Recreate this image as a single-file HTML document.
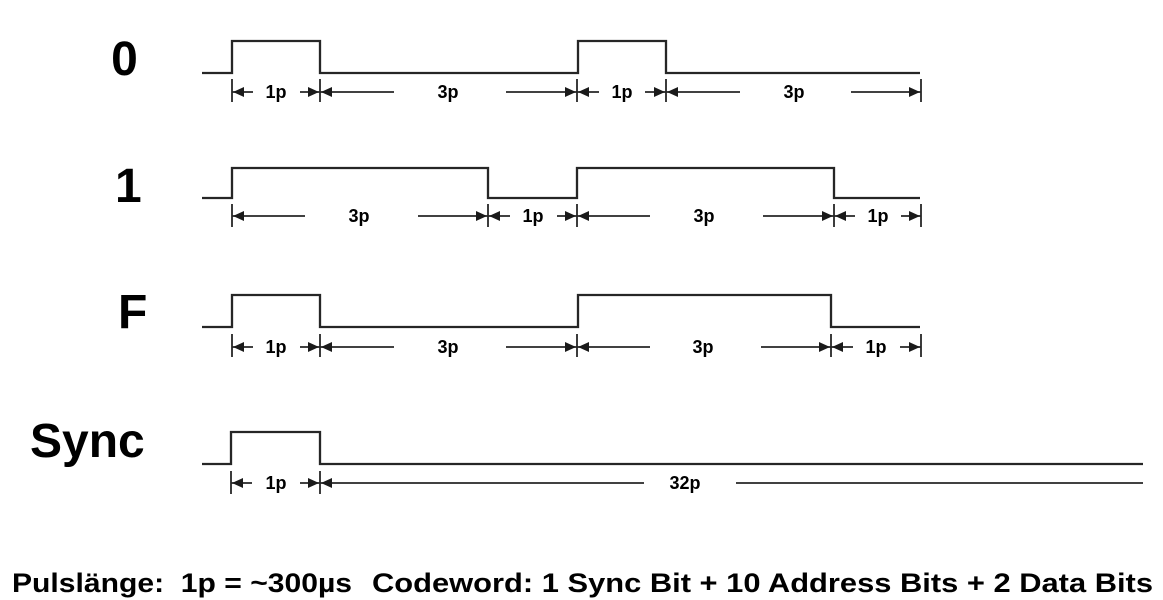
<!DOCTYPE html>
<html><head><meta charset="utf-8"><style>
html,body{margin:0;padding:0;background:#fff;}
svg{display:block;}
text{font-family:"Liberation Sans",Arial,sans-serif;font-weight:bold;fill:#000;}
.sig{fill:none;stroke:#262626;stroke-width:2.3;}
.dim{stroke:#262626;stroke-width:1.8;fill:none;}
.ah{fill:#1a1a1a;}
.sm{font-size:18px;}
.big{font-size:48px;}
</style></head><body>
<svg width="1163" height="600" viewBox="0 0 1163 600" xmlns="http://www.w3.org/2000/svg">
<!-- Labels -->
<text class="big" x="124.5" y="75" text-anchor="middle">0</text>
<text class="big" x="115" y="202">1</text>
<text class="big" x="118" y="328">F</text>
<text class="big" x="30" y="457">Sync</text>

<!-- Row 0 -->
<polyline class="sig" points="202,73 232,73 232,41 320,41 320,73 578,73 578,41 666,41 666,73 920,73"/>
<g class="dim">
<line x1="232" y1="79" x2="232" y2="102"/><line x1="320" y1="79" x2="320" y2="102"/>
<line x1="577" y1="79" x2="577" y2="102"/><line x1="666" y1="79" x2="666" y2="102"/>
<line x1="921" y1="79" x2="921" y2="102"/>
<line x1="232" y1="92" x2="253" y2="92"/><line x1="300" y1="92" x2="320" y2="92"/>
<line x1="320" y1="92" x2="394" y2="92"/><line x1="506" y1="92" x2="577" y2="92"/>
<line x1="577" y1="92" x2="599" y2="92"/><line x1="645" y1="92" x2="666" y2="92"/>
<line x1="666" y1="92" x2="740" y2="92"/><line x1="851" y1="92" x2="921" y2="92"/>
</g>
<g class="ah">
<polygon points="233,92 244,87 244,97"/><polygon points="319,92 308,87 308,97"/>
<polygon points="321,92 332,87 332,97"/><polygon points="576,92 565,87 565,97"/>
<polygon points="578,92 589,87 589,97"/><polygon points="665,92 654,87 654,97"/>
<polygon points="667,92 678,87 678,97"/><polygon points="920,92 909,87 909,97"/>
</g>
<text class="sm" x="276" y="98" text-anchor="middle">1p</text>
<text class="sm" x="448" y="98" text-anchor="middle">3p</text>
<text class="sm" x="622" y="98" text-anchor="middle">1p</text>
<text class="sm" x="794" y="98" text-anchor="middle">3p</text>

<!-- Row 1 -->
<polyline class="sig" points="202,198 232,198 232,168 488,168 488,198 577,198 577,168 834,168 834,198 920,198"/>
<g class="dim">
<line x1="232" y1="204" x2="232" y2="227"/><line x1="488" y1="204" x2="488" y2="227"/>
<line x1="577" y1="204" x2="577" y2="227"/><line x1="834" y1="204" x2="834" y2="227"/>
<line x1="921" y1="204" x2="921" y2="227"/>
<line x1="232" y1="216" x2="305" y2="216"/><line x1="418" y1="216" x2="488" y2="216"/>
<line x1="488" y1="216" x2="510" y2="216"/><line x1="557" y1="216" x2="577" y2="216"/>
<line x1="577" y1="216" x2="650" y2="216"/><line x1="763" y1="216" x2="834" y2="216"/>
<line x1="834" y1="216" x2="855" y2="216"/><line x1="901" y1="216" x2="921" y2="216"/>
</g>
<g class="ah">
<polygon points="233,216 244,211 244,221"/><polygon points="487,216 476,211 476,221"/>
<polygon points="489,216 500,211 500,221"/><polygon points="576,216 565,211 565,221"/>
<polygon points="578,216 589,211 589,221"/><polygon points="833,216 822,211 822,221"/>
<polygon points="835,216 846,211 846,221"/><polygon points="920,216 909,211 909,221"/>
</g>
<text class="sm" x="359" y="222" text-anchor="middle">3p</text>
<text class="sm" x="533" y="222" text-anchor="middle">1p</text>
<text class="sm" x="704" y="222" text-anchor="middle">3p</text>
<text class="sm" x="878" y="222" text-anchor="middle">1p</text>

<!-- Row F -->
<polyline class="sig" points="202,327 232,327 232,295 320,295 320,327 578,327 578,295 831,295 831,327 920,327"/>
<g class="dim">
<line x1="232" y1="334" x2="232" y2="357"/><line x1="320" y1="334" x2="320" y2="357"/>
<line x1="577" y1="334" x2="577" y2="357"/><line x1="831" y1="334" x2="831" y2="357"/>
<line x1="921" y1="334" x2="921" y2="357"/>
<line x1="232" y1="347" x2="253" y2="347"/><line x1="300" y1="347" x2="320" y2="347"/>
<line x1="320" y1="347" x2="394" y2="347"/><line x1="506" y1="347" x2="577" y2="347"/>
<line x1="577" y1="347" x2="650" y2="347"/><line x1="761" y1="347" x2="831" y2="347"/>
<line x1="831" y1="347" x2="853" y2="347"/><line x1="900" y1="347" x2="921" y2="347"/>
</g>
<g class="ah">
<polygon points="233,347 244,342 244,352"/><polygon points="319,347 308,342 308,352"/>
<polygon points="321,347 332,342 332,352"/><polygon points="576,347 565,342 565,352"/>
<polygon points="578,347 589,342 589,352"/><polygon points="830,347 819,342 819,352"/>
<polygon points="832,347 843,342 843,352"/><polygon points="920,347 909,342 909,352"/>
</g>
<text class="sm" x="276" y="353" text-anchor="middle">1p</text>
<text class="sm" x="448" y="353" text-anchor="middle">3p</text>
<text class="sm" x="703" y="353" text-anchor="middle">3p</text>
<text class="sm" x="876" y="353" text-anchor="middle">1p</text>

<!-- Sync -->
<polyline class="sig" points="202,464 231,464 231,432 320,432 320,464 1143,464"/>
<g class="dim">
<line x1="231" y1="471" x2="231" y2="494"/><line x1="320" y1="471" x2="320" y2="494"/>
<line x1="231" y1="483" x2="252" y2="483"/><line x1="300" y1="483" x2="320" y2="483"/>
<line x1="320" y1="483" x2="644" y2="483"/><line x1="736" y1="483" x2="1143" y2="483"/>
</g>
<g class="ah">
<polygon points="232,483 243,478 243,488"/><polygon points="319,483 308,478 308,488"/>
<polygon points="321,483 332,478 332,488"/>
</g>
<text class="sm" x="276" y="489" text-anchor="middle">1p</text>
<text class="sm" x="685" y="489" text-anchor="middle">32p</text>

<!-- Bottom -->
<text x="12" y="592" font-size="27" textLength="340" lengthAdjust="spacingAndGlyphs" xml:space="preserve">Pulslänge:  1p = ~300µs</text>
<text x="372" y="592" font-size="27" textLength="781" lengthAdjust="spacingAndGlyphs">Codeword: 1 Sync Bit + 10 Address Bits + 2 Data Bits</text>
</svg>
</body></html>
